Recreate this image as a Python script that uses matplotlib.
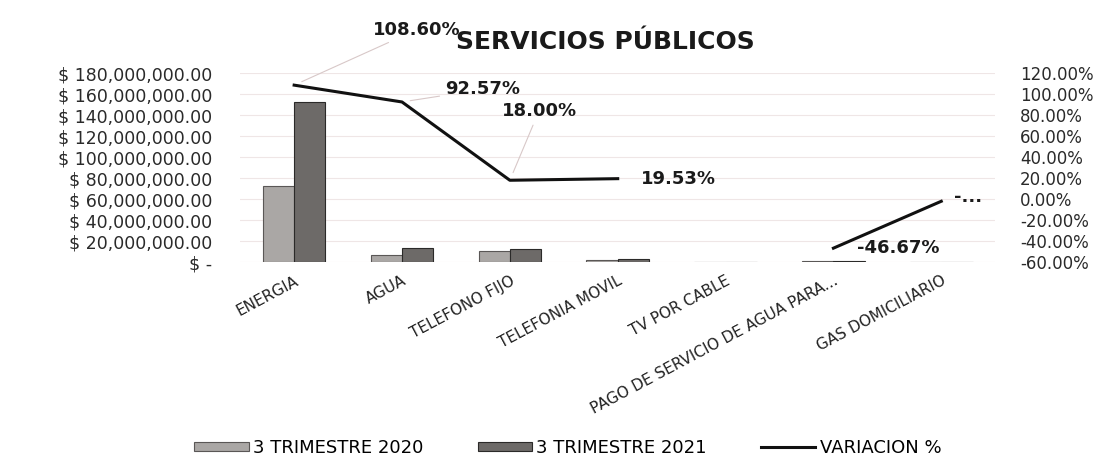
import numpy as np
import matplotlib.pyplot as plt
from matplotlib.ticker import FuncFormatter

# datos
servicios = ['ENERGIA', 'AGUA', 'TELEFONO FIJO', 'TELEFONIA MOVIL', 'TV POR CABLE',
             'PAGO DE SERVICIO DE AGUA PARA...', 'GAS DOMICILIARIO']
trim_2020 = [73.0e6, 7.0e6, 10.5e6, 2.2e6, 0.0, 1.2e6, 0.5e6]
trim_2021 = [152.3e6, 13.5e6, 12.4e6, 2.6e6, 0.0, 0.64e6, 0.49e6]
variacion = [108.60, 92.57, 18.00, 19.53, np.nan, -46.67, -2.0]
etiquetas_var = ['108.60%', '92.57%', '18.00%', '19.53%', '', '-46.67%', '-...']

plt.rcParams['font.family'] = ['DejaVu Sans']

fig = plt.figure(figsize=(11.07, 4.69), dpi=100)
ax = fig.add_axes([0.217, 0.441, 0.682, 0.403])
ax2 = ax.twinx()

pos = np.arange(len(servicios))
ancho = 0.29
b1 = ax.bar(pos - ancho / 2, trim_2020, ancho, color='#aaa7a5', edgecolor='#5a5756',
            linewidth=0.8, label='3 TRIMESTRE 2020')
b2 = ax.bar(pos + ancho / 2, trim_2021, ancho, color='#6d6a68', edgecolor='#2b2a29',
            linewidth=0.8, label='3 TRIMESTRE 2021')

ax.set_ylim(0, 180e6)
ax.set_yticks(np.arange(0, 180e6 + 1, 20e6))
ax.yaxis.set_major_formatter(FuncFormatter(
    lambda v, p: '$ -' if v == 0 else '$ {:,.2f}'.format(v)))
ax.set_xlim(-0.5, len(servicios) - 0.5)
ax.set_xticks(pos)
ax.set_xticklabels(servicios, rotation=28, ha='right', rotation_mode='anchor',
                   fontsize=11, color='#222222')
ax.tick_params(axis='x', length=0, pad=8)
ax.tick_params(axis='y', length=0, pad=20, labelsize=12.5, labelcolor='#2a2a2a')
ax.grid(axis='y', color='#efe6e6', linewidth=0.8)
ax.set_axisbelow(True)
for s in ax.spines.values():
    s.set_visible(False)

linea, = ax2.plot(pos, variacion, color='#111111', linewidth=2.2, label='VARIACION %')
ax2.set_ylim(-60, 120)
ax2.set_yticks(np.arange(-60, 121, 20))
ax2.yaxis.set_major_formatter(FuncFormatter(lambda v, p: '{:.2f}%'.format(v)))
ax2.tick_params(axis='y', length=0, pad=18, labelsize=12, labelcolor='#2a2a2a')
for s in ax2.spines.values():
    s.set_visible(False)

# etiquetas de la variacion (desplazamientos en puntos)
desp = [(57, 40), (31, 9), (-6, 50), (17, 0), (0, 0), (17, 0), (9, 3)]
guia = [True, True, True, False, False, False, False]
for i, txt in enumerate(etiquetas_var):
    if not txt:
        continue
    props = dict(arrowstyle='-', color='#d8c8c8', lw=0.8, shrinkA=2, shrinkB=6) if guia[i] else None
    ax2.annotate(txt, (pos[i], variacion[i]), xytext=desp[i], textcoords='offset points',
                 ha='left', va='center', fontsize=13, fontweight='bold',
                 color='#1a1a1a', arrowprops=props)

fig.text(0.547, 0.91, 'SERVICIOS PÚBLICOS', ha='center', va='center',
         fontsize=18, fontweight='bold', color='#1a1a1a')

fig.legend([b1, b2, linea], ['3 TRIMESTRE 2020', '3 TRIMESTRE 2021', 'VARIACION %'],
           loc='center', bbox_to_anchor=(0.513, 0.045), ncol=3, frameon=False,
           fontsize=13, handlelength=3.0, handleheight=0.45, columnspacing=3.0,
           handletextpad=0.25)

fig.savefig('out.png', dpi=100, facecolor='white')
